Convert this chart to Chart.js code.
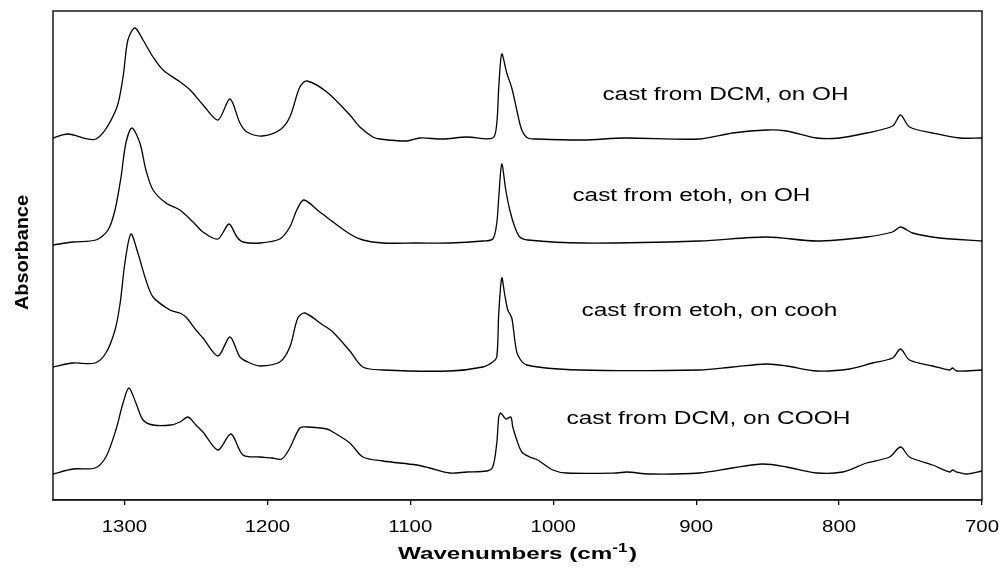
<!DOCTYPE html>
<html>
<head>
<meta charset="utf-8">
<script src="https://cdn.jsdelivr.net/npm/chart.js@4"></script>
<style>
  body { margin: 0; background: #fff; }
  canvas { display: block; }
</style>
</head>
<body>
<canvas id="chart" width="1003" height="569"></canvas>
<script>
// спектры, значения (волновые числа и поглощение со сдвигом)
const wnDcmOh = [1350, 1339.5, 1320, 1306, 1301, 1297.6, 1292.7, 1287, 1280, 1273, 1261, 1254, 1245, 1234.6, 1226.2, 1219.2, 1214.3, 1203.8, 1191.3, 1184.3, 1177.3, 1172.4, 1158.4, 1142.3, 1135.3, 1126.2, 1121.3, 1102.4, 1093.4, 1077.3, 1060.5, 1042.3, 1039.5, 1038.1, 1036, 1032.5, 1029, 1025.5, 1022, 1017.8, 1011.5, 979.4, 950, 897.6, 874.5, 850.7, 836.7, 815.7, 799.7, 780.8, 762.6, 757, 750.7, 734.6, 715.7, 700];
const absDcmOh = [3.62, 3.66, 3.61, 3.90, 4.23, 4.60, 4.72, 4.60, 4.43, 4.30, 4.18, 4.10, 3.95, 3.80, 4.01, 3.77, 3.68, 3.64, 3.70, 3.83, 4.13, 4.19, 4.08, 3.85, 3.73, 3.63, 3.61, 3.59, 3.62, 3.61, 3.63, 3.62, 3.77, 4.13, 4.46, 4.27, 4.12, 3.90, 3.70, 3.62, 3.61, 3.60, 3.62, 3.61, 3.67, 3.70, 3.69, 3.62, 3.62, 3.67, 3.74, 3.85, 3.73, 3.67, 3.62, 3.62];

const wnEtohOh = [1350, 1336, 1320, 1311.5, 1306.6, 1302.4, 1299, 1294.8, 1289.2, 1285, 1280, 1271, 1261.2, 1252, 1245.1, 1234.6, 1226.9, 1221.3, 1217.1, 1205.2, 1191.3, 1184.3, 1179.4, 1174.5, 1163.3, 1142.3, 1133.2, 1119.2, 1095.5, 1072.4, 1049.3, 1042.3, 1039.5, 1038.1, 1036, 1033.2, 1030.4, 1026.9, 1023.4, 1017.8, 979.4, 897.6, 850.7, 815.7, 780.8, 762.6, 757, 748.6, 729.7, 700];
const absEtohOh = [2.55, 2.58, 2.60, 2.70, 2.90, 3.23, 3.57, 3.72, 3.57, 3.30, 3.10, 2.97, 2.90, 2.78, 2.68, 2.61, 2.76, 2.63, 2.58, 2.57, 2.61, 2.73, 2.90, 3.00, 2.88, 2.66, 2.60, 2.57, 2.57, 2.57, 2.59, 2.61, 2.77, 3.03, 3.36, 3.10, 2.90, 2.73, 2.63, 2.60, 2.57, 2.59, 2.63, 2.59, 2.63, 2.68, 2.73, 2.67, 2.62, 2.59];

const wnEtohCooh = [1350, 1336, 1320.6, 1313, 1306.6, 1303, 1299.7, 1295.5, 1290.6, 1285, 1280, 1268.2, 1261.2, 1257, 1250, 1245.1, 1234.6, 1226.2, 1219.2, 1212.2, 1205.2, 1191.3, 1184.3, 1178.7, 1173.8, 1161.2, 1154.2, 1142.3, 1133.2, 1119.2, 1072.4, 1049.3, 1042.3, 1039.5, 1038.1, 1036, 1033.9, 1031.8, 1029, 1026.9, 1024.8, 1018.5, 981.5, 897.6, 874.5, 850.7, 836.7, 815.7, 792.6, 776.6, 762.6, 757, 750.7, 734.6, 722.7, 720.6, 717.8, 700];
const absEtohCooh = [1.33, 1.37, 1.37, 1.47, 1.70, 1.97, 2.37, 2.66, 2.47, 2.20, 2.03, 1.90, 1.87, 1.83, 1.70, 1.62, 1.44, 1.63, 1.43, 1.37, 1.34, 1.38, 1.53, 1.82, 1.87, 1.75, 1.68, 1.49, 1.33, 1.30, 1.29, 1.33, 1.38, 1.43, 1.87, 2.22, 2.05, 1.90, 1.82, 1.60, 1.45, 1.35, 1.30, 1.30, 1.33, 1.36, 1.34, 1.29, 1.31, 1.37, 1.42, 1.51, 1.40, 1.34, 1.30, 1.32, 1.29, 1.30];

const wnDcmCooh = [1350, 1336, 1320.6, 1313, 1306, 1301, 1296.9, 1292, 1287, 1280, 1267.5, 1261.2, 1255.6, 1250, 1245.1, 1234.6, 1225.5, 1217.1, 1205.2, 1196.8, 1189.9, 1184.3, 1177.3, 1172.4, 1158.4, 1154.2, 1142.3, 1133.2, 1119.2, 1095.5, 1086.4, 1072.4, 1060.5, 1046.5, 1042.3, 1039.5, 1038.1, 1036.7, 1033.2, 1029.7, 1028.3, 1025.5, 1022, 1016.4, 1010.8, 1000.3, 990.6, 955.6, 948.6, 932.5, 897.6, 874.5, 853.5, 836.7, 815.7, 797.5, 780.8, 764.7, 757, 750.7, 734.6, 722.7, 720.6, 717.8, 710.8, 700];
const absDcmCooh = [0.26, 0.31, 0.32, 0.43, 0.70, 0.97, 1.12, 0.97, 0.80, 0.75, 0.75, 0.78, 0.83, 0.75, 0.68, 0.50, 0.66, 0.45, 0.43, 0.42, 0.41, 0.52, 0.72, 0.73, 0.71, 0.68, 0.57, 0.43, 0.39, 0.35, 0.32, 0.27, 0.28, 0.29, 0.33, 0.57, 0.83, 0.87, 0.81, 0.83, 0.73, 0.60, 0.48, 0.43, 0.40, 0.30, 0.27, 0.27, 0.28, 0.26, 0.27, 0.32, 0.36, 0.33, 0.27, 0.28, 0.37, 0.43, 0.53, 0.43, 0.35, 0.28, 0.30, 0.28, 0.26, 0.29];

const seriesLabels = ['cast from DCM, on OH', 'cast from etoh, on OH', 'cast from etoh, on cooh', 'cast from DCM, on COOH'];
const xTicks = [1300, 1200, 1100, 1000, 900, 800, 700];
const xTitle = 'Wavenumbers (cm';
const xTitleSup = '-1';
const yTitle = 'Absorbance';

const FONT = '"Liberation Sans", Arial, sans-serif';

const zip = (xs, ys) => xs.map((x, i) => ({ x, y: ys[i] }));
const traces = [
  zip(wnDcmOh, absDcmOh),
  zip(wnEtohOh, absEtohOh),
  zip(wnEtohCooh, absEtohCooh),
  zip(wnDcmCooh, absDcmCooh),
];

// текст, растянутый по горизонтали до нужной ширины (картинка растянута)
function stretchedText(ctx, text, x, y, font, sx, align) {
  ctx.save();
  ctx.font = font;
  const w = ctx.measureText(text).width;
  ctx.translate(x, y);
  ctx.scale(sx, 1);
  let dx = 0;
  if (align === 'center') dx = -w / 2;
  else if (align === 'right') dx = -w;
  ctx.fillText(text, dx, 0);
  ctx.restore();
  return w * sx;
}

// рамка вокруг поля диаграммы
const chartAreaBorder = {
  id: 'chartAreaBorder',
  beforeDatasetsDraw(chart) {
    const { ctx, chartArea: { left, top, width, height } } = chart;
    ctx.save();
    ctx.strokeStyle = '#1a1a1a';
    ctx.lineWidth = 1.5;
    ctx.strokeRect(left, top, width, height);
    ctx.restore();
  },
};

// подписи кривых, деления оси и названия осей
const textLayer = {
  id: 'textLayer',
  afterDraw(chart) {
    const { ctx, scales: { x, y }, chartArea } = chart;
    ctx.save();
    ctx.fillStyle = '#000';
    ctx.textBaseline = 'alphabetic';

    // подписи кривых: центр по x (волновое число), базовая линия по y
    const anchors = [[879.5, 4.00], [903.3, 2.99], [890.7, 1.84], [891.4, 0.76]];
    const widths = [246, 238, 256, 284];
    seriesLabels.forEach((label, i) => {
      const font = `17.5px ${FONT}`;
      ctx.font = font;
      const natural = ctx.measureText(label).width;
      stretchedText(ctx, label, x.getPixelForValue(anchors[i][0]), y.getPixelForValue(anchors[i][1]), font, widths[i] / natural, 'center');
    });

    // деления оси x
    xTicks.forEach((v) => {
      stretchedText(ctx, String(v), x.getPixelForValue(v), chartArea.bottom + 32, `17px ${FONT}`, 1.2, 'center');
    });

    // название оси x с верхним индексом
    const boldMain = `bold 17px ${FONT}`;
    const boldSup = `bold 12px ${FONT}`;
    ctx.font = boldMain;
    const wMain = ctx.measureText(xTitle).width;
    const wClose = ctx.measureText(')').width;
    ctx.font = boldSup;
    const wSup = ctx.measureText(xTitleSup).width;
    const total = wMain + wSup + wClose + 1;
    const sx = 239 / total;
    const cx = (chartArea.left + chartArea.right) / 2;
    const baseY = chartArea.bottom + 59;
    let startX = cx - (total * sx) / 2;
    startX += stretchedText(ctx, xTitle, startX, baseY, boldMain, sx, 'left');
    startX += stretchedText(ctx, xTitleSup, startX, baseY - 7, boldSup, sx, 'left') + sx;
    stretchedText(ctx, ')', startX, baseY, boldMain, sx, 'left');

    // название оси y
    ctx.save();
    ctx.font = `bold 18px ${FONT}`;
    const wy = ctx.measureText(yTitle).width;
    ctx.translate(28, (chartArea.top + chartArea.bottom) / 2 - 3);
    ctx.rotate(-Math.PI / 2);
    ctx.scale(115 / wy, 1);
    ctx.textAlign = 'center';
    ctx.fillText(yTitle, 0, 0);
    ctx.restore();

    ctx.restore();
  },
};

const data = {
  datasets: traces.map((points, i) => ({
    label: seriesLabels[i],
    data: points,
    borderColor: '#000000',
    borderWidth: 1.3,
    pointRadius: 0,
    fill: false,
    tension: 0.3,
  })),
};

const chartConfig = {
  type: 'line',
  data,
  options: {
    responsive: false,
    animation: false,
    layout: {
      padding: { left: 53, right: 21, top: 11, bottom: 64 },
    },
    plugins: {
      legend: { display: false },
      tooltip: { enabled: false },
    },
    scales: {
      x: {
        type: 'linear',
        reverse: true,
        min: 700,
        max: 1350,
        afterBuildTicks: (axis) => {
          axis.ticks = xTicks.map((value) => ({ value }));
        },
        ticks: { display: false },
        grid: {
          drawOnChartArea: false,
          tickLength: 5,
          color: '#000000',
          lineWidth: 1.3,
        },
        border: { color: '#1a1a1a', width: 1.5 },
      },
      y: {
        display: false,
        min: 0,
        max: 4.89,
      },
    },
  },
  plugins: [chartAreaBorder, textLayer],
};

const chart = new Chart(document.getElementById('chart'), chartConfig);
</script>
</body>
</html>
